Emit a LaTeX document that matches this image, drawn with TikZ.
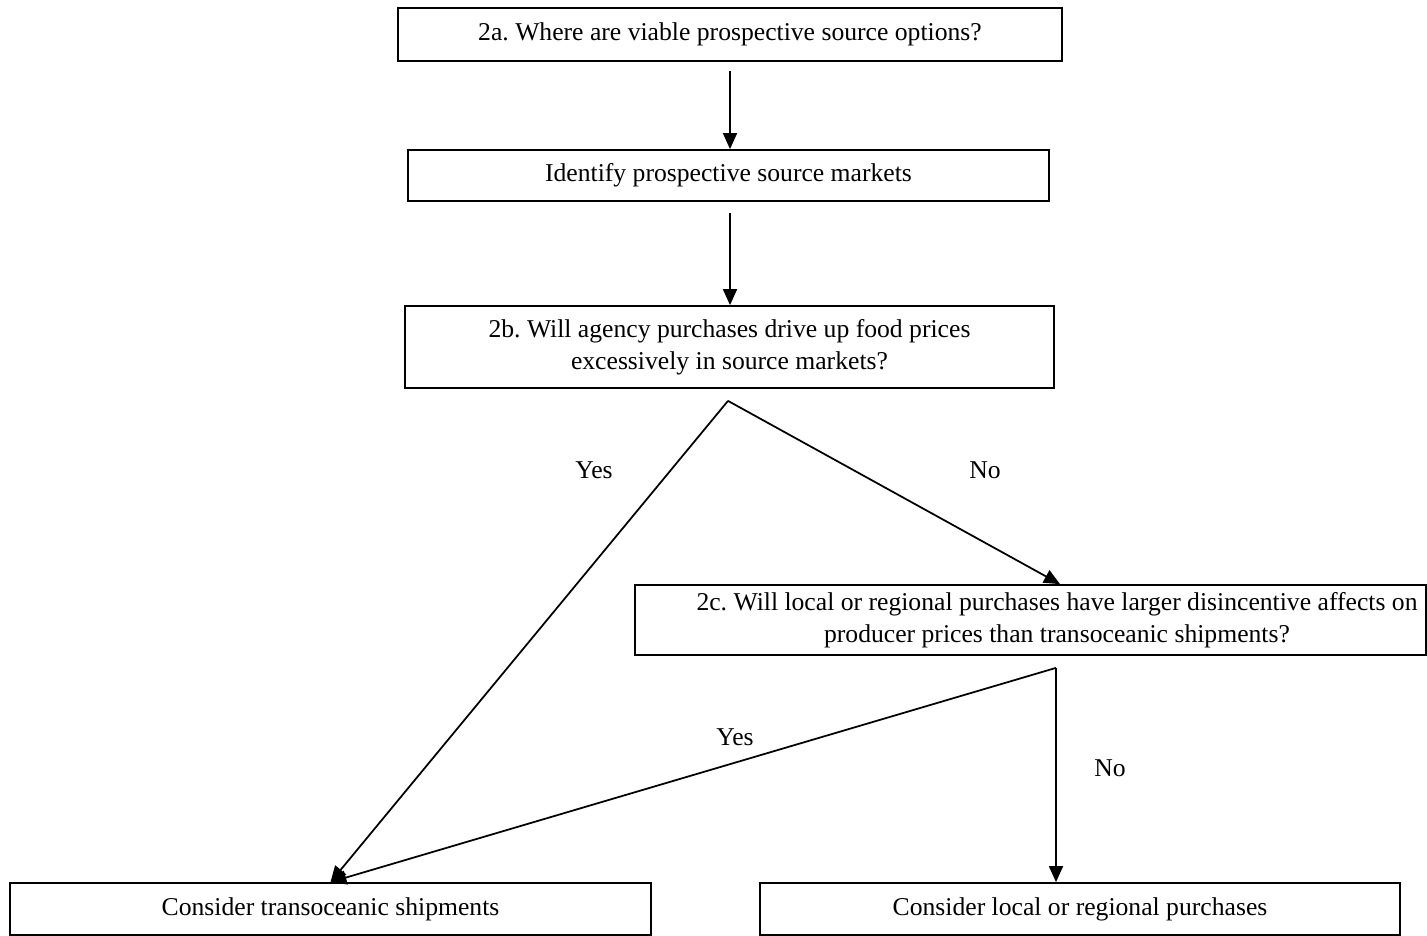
\documentclass[tikz,border=0pt]{standalone}
\usepackage{fontspec}
\setmainfont{Liberation Serif}
\usepackage{tikz}
\usetikzlibrary{positioning,calc,arrows.meta}

\tikzset{
    box/.style={draw, line width=1pt, align=center, inner sep=0pt,
        font=\fontsize{14.6}{18.2}\selectfont},
    flow/.style={line width=1pt, -{Triangle[length=0.32cm,width=0.28cm]}},
    lbl/.style={font=\fontsize{14.6}{18.2}\selectfont}
}

\begin{document}
\frenchspacing
\begin{tikzpicture}[x=0.02cm, y=-0.02cm]
    \useasboundingbox (0,0) rectangle (1427,936);

    % question boxes
    \node[box, minimum width=13.28cm, minimum height=1.06cm] (where) at (730,34.5)
        {2a. Where are viable prospective source options?};
    \node[box, minimum width=12.82cm, minimum height=1.02cm] (ident) at (728.5,175.5)
        {Identify prospective source markets};
    \node[box, minimum width=12.98cm, minimum height=1.64cm] (drive) at (729.5,347)
        {2b. Will agency purchases drive up food prices\\excessively in source markets?};
    \node[box, minimum width=15.82cm, minimum height=1.40cm] (disinc) at (1030.5,620) {};
    \node[lbl, align=center] (disincText) at ($(disinc.center)+(26.5,0)$)
        {2c. Will local or regional purchases have larger disincentive affects on\\producer prices than transoceanic shipments?};

    % outcome boxes
    \node[box, minimum width=12.82cm, minimum height=1.04cm] (trans) at (330.5,909)
        {Consider transoceanic shipments};
    \node[box, minimum width=12.80cm, minimum height=1.04cm] (local) at (1080,909)
        {Consider local or regional purchases};

    % branch points below the questions
    \coordinate (driveTip) at ($(drive.south)+(-1.5,12)$);
    \coordinate (disincTip) at ($(disinc.south)+(25.5,12)$);

    \draw[flow, shorten <=0.18cm] (where.south) -- (where.south |- ident.north);
    \draw[flow, shorten <=0.22cm] (where.south |- ident.south) -- (where.south |- drive.north);

    \draw[flow] (driveTip) -- (trans.north);
    \draw[flow] (driveTip) -- ($(disinc.north)+(29.5,0)$);
    \draw[flow] (disincTip) -- (trans.north);
    \draw[flow] (disincTip) -- (disincTip |- local.north);

    % answers
    \node[lbl] (yesA) at (594,470) {Yes};
    \node[lbl] (noA) at (985,470) {No};
    \node[lbl] (yesB) at (735,737) {Yes};
    \node[lbl] (noB) at (1110,768) {No};
\end{tikzpicture}
\end{document}
